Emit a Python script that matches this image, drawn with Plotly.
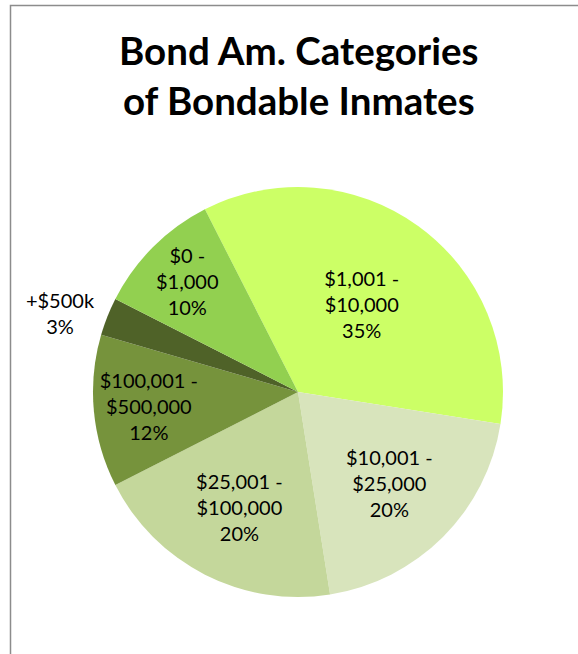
import plotly.graph_objects as go

# Bond amount categories, clockwise from the top-left boundary
categories = ["$1,001 -<br>$10,000", "$10,001 -<br>$25,000", "$25,001 -<br>$100,000",
              "$100,001 -<br>$500,000", "+$500k", "$0 -<br>$1,000"]
shares = [35, 20, 20, 12, 3, 10]
slice_colors = ["#CCFF66", "#D8E4BC", "#C4D79B", "#76933C", "#4F6228", "#92D050"]
text_positions = ["inside", "inside", "inside", "inside", "outside", "inside"]

W, H = 578, 654
cx, cy, r = 298, 392, 205
FONT = "Lato, Carlito, sans-serif"

fig = go.Figure(go.Pie(
    labels=categories,
    values=shares,
    sort=False,
    direction="clockwise",
    rotation=-27,
    marker=dict(colors=slice_colors, line=dict(width=0)),
    texttemplate="%{label}<br>%{percent:.0%}",
    textposition=text_positions,
    insidetextorientation="horizontal",
    textfont=dict(family=FONT, size=20, color="#000000"),
    showlegend=False,
    hoverinfo="label+percent",
    domain=dict(x=[(cx - r) / W, (cx + r) / W], y=[1 - (cy + r) / H, 1 - (cy - r) / H]),
))

fig.update_layout(
    width=W, height=H,
    margin=dict(l=0, r=0, t=0, b=0),
    paper_bgcolor="#FFFFFF",
    plot_bgcolor="#FFFFFF",
    uniformtext=dict(mode="show", minsize=20),
    annotations=[dict(
        text="Bond Am. Categories<br>of Bondable Inmates",
        xref="paper", yref="paper",
        x=cx / W, xanchor="center",
        y=1 - 75 / H, yanchor="middle",
        showarrow=False,
        font=dict(family=FONT, size=38.5, color="#000000", weight="bold"),
    )],
    shapes=[dict(
        type="rect", xref="paper", yref="paper",
        x0=10.5 / W, x1=1.05, y0=-0.05, y1=1 - 5.5 / H,
        line=dict(color="#8C8C8C", width=1.5), fillcolor="rgba(0,0,0,0)",
    )],
)

fig.write_html("out.html")
